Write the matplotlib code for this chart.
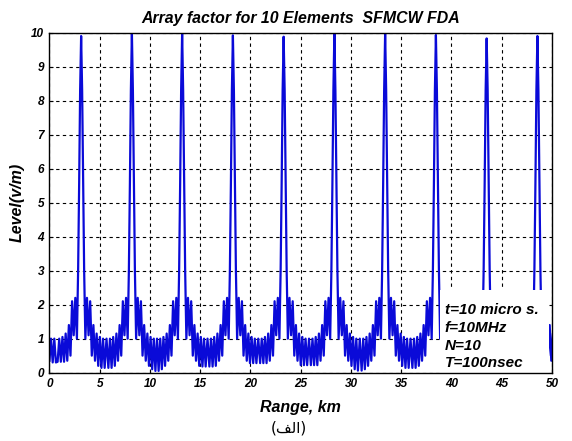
import numpy as np
import matplotlib
matplotlib.use('Agg')
import matplotlib.pyplot as plt
from matplotlib.patches import Rectangle

# main lobes (km, level)
peak_km = [3.15, 8.2, 13.2, 18.25, 23.3, 28.35, 33.4, 38.45, 43.5, 48.55]
peak_lvl = [9.9, 10.0, 10.0, 9.92, 9.88, 10.0, 10.0, 9.93, 9.83, 9.9]
# lowest dips of the ripple: before first peak, between peaks, after last
gap_floor = [0.32, 0.14, 0.03, 0.18, 0.28, 0.22, 0.06, 0.14, 0.2, 0.2, 0.3]
# shape of one side of a lobe: distance from the peak (km) and level
lobe_off = [0.1, 0.2, 0.3, 0.42, 0.58, 0.74, 0.9, 1.06, 1.22, 1.38,
            1.54, 1.7, 1.86, 2.02, 2.18, 2.34]
lobe_lvl = [8.3, 5.5, 3.0, 1.0, 2.2, 1.1, 2.1, 0.5, 1.4, 0.35,
            1.15, 0.2, 1.05, 0.1, 1.0, 0.05]
# ripple at the start of the range
lead_km = [0.0, 0.15, 0.32, 0.48, 0.64]
lead_lvl = [0.35, 1.0, 0.3, 1.0, 0.3]

info_lines = ['t=10 micro s.', 'f=10MHz', 'N=10', 'T=100nsec']

# build the trace
off = np.array(lobe_off)
lvl = np.array(lobe_lvl)
xs = list(lead_km)
ys = list(lead_lvl)
for k, (pk, pl) in enumerate(zip(peak_km, peak_lvl)):
    xs += list(pk - off[::-1])
    ys += list(np.maximum(lvl, gap_floor[k])[::-1])
    xs.append(pk)
    ys.append(pl)
    xs += list(pk + off)
    ys += list(np.maximum(lvl, gap_floor[k + 1]))
    if k < len(peak_km) - 1:
        xs.append((pk + peak_km[k + 1]) / 2)
        ys.append(1.0)

plt.rcParams['font.family'] = ['Liberation Sans', 'DejaVu Sans']

fig = plt.figure(figsize=(5.72, 4.41), dpi=100)
ax = fig.add_axes([0.0865, 0.155, 0.8785, 0.771])

ax.plot(xs, ys, color='#0a0ad8', linewidth=1.6, zorder=2)

ax.set_xlim(0, 50)
ax.set_ylim(0, 10)
ax.set_xticks(np.arange(0, 51, 5))
ax.set_yticks(np.arange(0, 11, 1))
ax.grid(True, color='black', linestyle=(0, (3, 3)), linewidth=0.8)
ax.tick_params(direction='in', length=3, labelsize=8.5, pad=4)
for lab in ax.get_xticklabels() + ax.get_yticklabels():
    lab.set_fontweight('bold')
    lab.set_fontstyle('italic')
for sp in ax.spines.values():
    sp.set_linewidth(1.0)

# white info box in the lower right corner
ax.add_patch(Rectangle((0.777, 0.0), 0.217, 0.243, transform=ax.transAxes,
                       facecolor='white', edgecolor='none', zorder=2.4))
for i, line in enumerate(info_lines):
    ax.text(0.787, 0.172 - i * 0.052, line, transform=ax.transAxes,
            fontsize=11, fontweight='bold', fontstyle='italic',
            va='baseline', ha='left', zorder=3)

ax.set_title('Array factor for 10 Elements  SFMCW FDA', fontsize=11.4,
             fontweight='bold', fontstyle='italic', pad=7)
ax.set_xlabel('Range, km', fontsize=11.5, fontweight='bold', fontstyle='italic')
ax.set_ylabel('Level(v/m)', fontsize=11.5, fontweight='bold', fontstyle='italic')
ax.xaxis.set_label_coords(0.5, -0.08)
ax.yaxis.set_label_coords(-0.05, 0.5)

# caption "(الف)" written with presentation forms for left-to-right drawing
fig.text(0.505, 0.03, '(\ufed2\ufedf\ufe8d)', fontsize=11,
         family=['DejaVu Sans'], ha='center', va='center')

fig.savefig('out.png', dpi=100)
